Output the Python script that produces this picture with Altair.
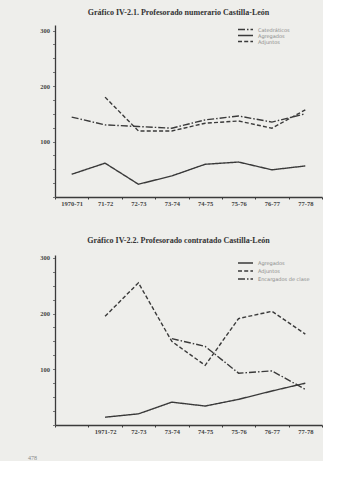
import altair as alt
import pandas as pd

# ---------- data ----------
cats1 = ["1970-71", "71-72", "72-73", "73-74", "74-75", "75-76", "76-77", "77-78"]
catedraticos = [144, 130, 127, 124, 139, 146, 135, 150]
agregados1 = [41, 61, 23, 38, 59, 63, 49, 56]
adjuntos1 = [None, 180, 119, 119, 133, 137, 124, 157]

cats2 = ["", "1971-72", "72-73", "73-74", "74-75", "75-76", "76-77", "77-78"]
agregados2 = [None, 14, 20, 41, 34, 46, 61, 75]
adjuntos2 = [None, 195, 255, 150, 107, 191, 204, 163]
encargados = [None, None, None, 155, 141, 93, 97, 64]

title1 = "Gráfico IV-2.1. Profesorado numerario Castilla-León"
title2 = "Gráfico IV-2.2. Profesorado contratado Castilla-León"
page_number = "478"

INK = "#3a3a3a"
BG = "#eeeeeb"
SOLID = [1, 0]
DASHED = [4, 2.2]
DASHDOT = [7, 2, 1.5, 2]


def long_df(cats, series):
    rows = []
    for name, vals in series:
        for c, v in zip(cats, vals):
            if v is not None:
                rows.append({"cat": c, "val": v, "serie": name})
    return pd.DataFrame(rows)


def panel(cats, series, dashes, title, ymax, height, title_offset, legend_span, extra=None):
    df = long_df(cats, series)
    order = [s[0] for s in series]
    dash_scale = alt.Scale(domain=order, range=dashes)
    lines = alt.Chart(df).mark_line(color=INK, strokeWidth=1.4).encode(
        x=alt.X(
            "cat:N",
            sort=cats,
            scale=alt.Scale(type="band", domain=cats, paddingInner=0, paddingOuter=0),
            axis=alt.Axis(
                title=None,
                tickBand="extent",
                labelAngle=0,
                tickSize=2,
                labelPadding=1,
                labelFont="Liberation Serif",
                labelFontSize=6.5,
                labelFontWeight="bold",
                labelColor="#444",
                domainColor=INK,
                domainWidth=1.3,
                tickColor=INK,
            ),
        ),
        y=alt.Y(
            "val:Q",
            scale=alt.Scale(domain=[0, ymax], nice=False, zero=True),
            axis=alt.Axis(
                title=None,
                values=list(range(0, 301, 25)),
                labelExpr="datum.value % 100 == 0 && datum.value > 0 ? datum.label : ''",
                grid=False,
                tickSize=2.5,
                labelPadding=3,
                labelFont="Liberation Serif",
                labelFontSize=6.5,
                labelFontWeight="bold",
                labelColor="#444",
                domainColor=INK,
                domainWidth=1.3,
                tickColor="#777",
            ),
        ),
        strokeDash=alt.StrokeDash("serie:N", sort=order, scale=dash_scale, legend=None),
        detail="serie:N",
    )

    # hand-built compact legend (same dash scale)
    leg_df = pd.DataFrame({"serie": order})
    leg_y = alt.Y(
        "serie:N",
        sort=order,
        scale=alt.Scale(type="point", domain=order, range=legend_span, padding=0),
        axis=None,
    )
    leg_sym = alt.Chart(leg_df).mark_rule(color=INK, strokeWidth=1.3).encode(
        x=alt.value(183),
        x2=alt.value(198),
        y=leg_y,
        strokeDash=alt.StrokeDash("serie:N", sort=order, scale=dash_scale, legend=None),
    )
    leg_txt = alt.Chart(leg_df).mark_text(
        align="left", baseline="middle", font="DejaVu Sans", fontSize=5, color="#8a8a8a"
    ).encode(x=alt.value(203), y=leg_y, text="serie:N")

    layers = [lines, leg_sym, leg_txt]
    if extra is not None:
        layers.append(extra)
    return (
        alt.layer(*layers)
        .resolve_scale(y="independent")
        .properties(
            width=267,
            height=height,
            title=alt.TitleParams(
                title,
                font="Liberation Serif",
                fontSize=8,
                fontWeight="bold",
                color="#333",
                anchor="middle",
                offset=title_offset,
                dx=-10,
            ),
        )
    )


chart1 = panel(
    cats1,
    [("Catedráticos", catedraticos), ("Agregados", agregados1), ("Adjuntos", adjuntos1)],
    [DASHDOT, SOLID, DASHED],
    title1,
    310,
    172,
    8,
    [4.5, 16.5],
)

pn = alt.Chart(pd.DataFrame({"t": [page_number]})).mark_text(
    font="Liberation Serif", fontSize=6, color="#888", align="left"
).encode(text="t:N", x=alt.value(-27), y=alt.value(203))

chart2 = panel(
    cats2,
    [("Agregados", agregados2), ("Adjuntos", adjuntos2), ("Encargados de clase", encargados)],
    [SOLID, DASHED, DASHDOT],
    title2,
    305,
    170,
    10,
    [8, 24],
    extra=pn,
)

chart = (
    alt.vconcat(chart1, chart2, spacing=29)
    .resolve_scale(strokeDash="independent", x="independent", y="independent")
    .properties(padding={"left": 28, "top": 9, "right": 0, "bottom": 0}, background=BG)
    .configure_view(stroke=None)
)

chart.save("out.html", embed_options={"renderer": "svg", "actions": False})
